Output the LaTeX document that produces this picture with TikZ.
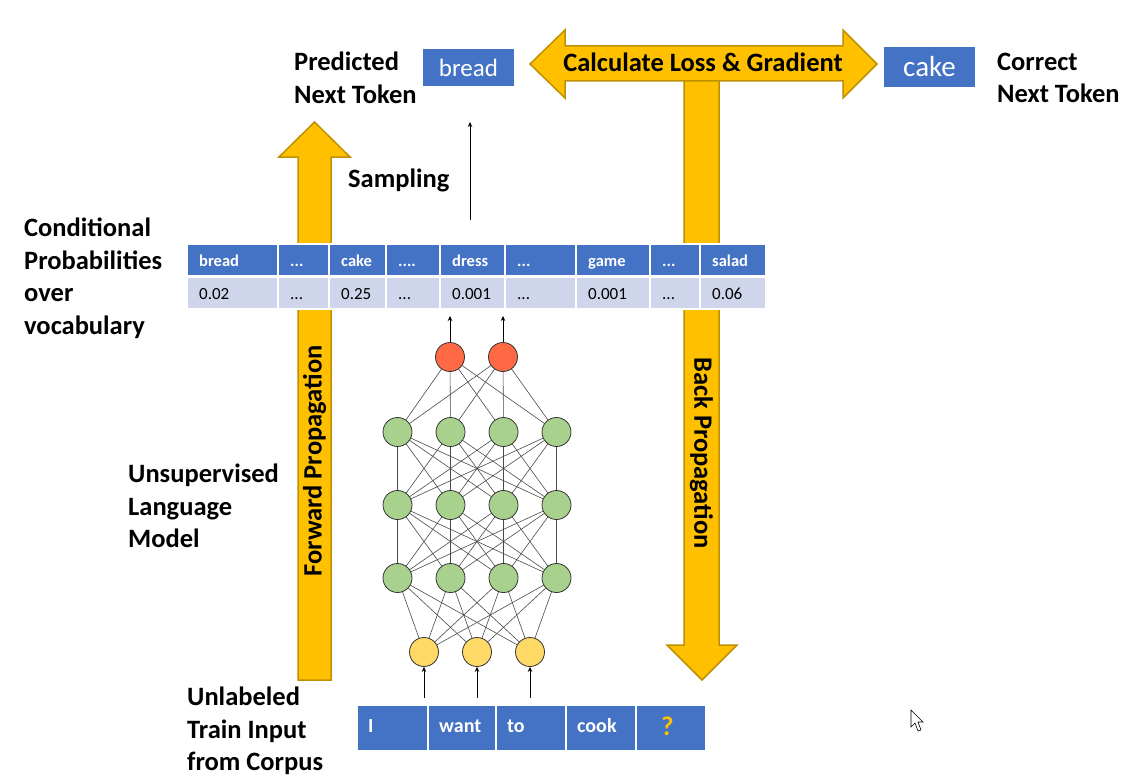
\documentclass[tikz,border=0pt]{standalone}
\usepackage{fontspec}
\setmainfont{Carlito}
\usetikzlibrary{arrows.meta}
\definecolor{blueC}{HTML}{4472C4}
\definecolor{valC}{HTML}{CFD5EA}
\definecolor{orY}{HTML}{FFC000}
\definecolor{orD}{HTML}{BF9000}
\definecolor{redN}{HTML}{FF6A45}
\definecolor{greenN}{HTML}{A9D18E}
\definecolor{yellowN}{HTML}{FFD966}
\definecolor{edgeC}{HTML}{4A4A4A}
\newcommand{\mythree}{...}
\newcommand{\myfour}{....}
\begin{document}
\begin{tikzpicture}[x=1pt,y=-1pt,
  big/.style={font=\bfseries\fontsize{26.5}{32.5}\selectfont, align=left, inner sep=0pt, anchor=west},
  orange/.style={fill=orY, draw=orD, line width=1.5pt, line join=miter},
  hdr/.style={fill=blueC, text=white, font=\bfseries\fontsize{16.5}{18}\selectfont, minimum height=30pt, text height=13pt, text depth=1pt, inner xsep=11pt, inner ysep=0pt, align=left, anchor=north west},
  val/.style={fill=valC, text=black, font=\fontsize{17}{19}\selectfont, minimum height=30pt, text height=13pt, text depth=1pt, inner xsep=11pt, inner ysep=0pt, align=left, anchor=north west},
  tok/.style={fill=blueC, text=white, font=\fontsize{25}{28}\selectfont, minimum height=37pt, inner sep=0pt},
  inbox/.style={fill=blueC, text=white, font=\bfseries\fontsize{20}{22}\selectfont, minimum height=44pt, text height=14pt, text depth=6pt, inner xsep=10pt, inner ysep=0pt, align=left, anchor=north west},
  neuron/.style={circle, draw=black!80, line width=0.8pt, minimum size=29pt, inner sep=0pt},
  edge/.style={draw=edgeC, line width=0.6pt},
  thin arrow/.style={draw=black, line width=0.9pt, -{Stealth[length=5pt,width=4.5pt]}}
]
\useasboundingbox (0,0) rectangle (1139,781);

% ---- orange arrows ----
\draw[orange] (684,70) -- (684,645) -- (667,645) -- (702,680) -- (737,645) -- (719,645) -- (719,70) -- cycle;
\draw[orange] (530,64) -- (565,30) -- (565,46) -- (843,46) -- (843,30) -- (877,64) -- (843,98) -- (843,81) -- (565,81) -- (565,98) -- cycle;
\node[big, anchor=center] (loss) at (703,62) {Calculate Loss \& Gradient};
\draw[orange] (298,680) -- (298,157) -- (279,157) -- (314.5,122) -- (350,157) -- (331,157) -- (331,680) -- cycle;
\node[big, anchor=center, rotate=90] (fwd) at (314.5,461) {Forward Propagation};
\node[big, anchor=center, rotate=-90] (back) at (701.5,453) {Back Propagation};

% ---- top tokens ----
\node[big] (pred) at (294,78) {Predicted\\Next Token};
\node[tok, minimum width=91pt] (bread) at (468.5,68) {bread};
\node[tok, minimum width=91pt, minimum height=40pt, font=\fontsize{29}{32}\selectfont] (cake) at (929.5,67) {cake};
\node[big] (corr) at (997,78) {Correct\\Next Token};

% ---- sampling ----
\node[big] (samp) at (348,180) {Sampling};
\coordinate (s0) at (470,220);
\coordinate (s1) at (470,122);
\draw[thin arrow] (s0) -- (s1);

% ---- left labels ----
\node[big] (cond) at (24,278.5) {Conditional\\Probabilities\\over\\vocabulary};
\node[big] (ulm) at (128,506) {Unsupervised\\Language\\Model};
\node[big] (uti) at (187,731) {Unlabeled\\Train Input\\from Corpus};

% ---- probability table ----
\fill[white] (186,243) rectangle (767,310);
\foreach \x/\w/\h/\v [count=\i, evaluate=\w as \tw using \w-22] in
  {188/89/bread/0.02, 279/49/\mythree/\mythree, 330/55/cake/0.25, 387/52/\myfour/\mythree, 441/63/dress/0.001,
   506/69/\mythree/\mythree, 577/72/game/0.001, 651/48/\mythree/\mythree, 701/64/salad/0.06}{
  \node[hdr, text width=\tw pt] (h\i) at (\x,245) {\h};
  \node[val, text width=\tw pt] (v\i) at (\x,278) {\v};
}

% ---- neural network ----
\foreach \x [count=\i] in {450,503} \coordinate (n0-\i) at (\x,357);
\foreach \y [count=\l] in {432,505,578}{
  \foreach \x [count=\i] in {397.5,450.5,503.5,556.5} \coordinate (n\l-\i) at (\x,\y);
}
\foreach \x [count=\i] in {424,477,530} \coordinate (n4-\i) at (\x,652);

\foreach \a in {1,2}{\foreach \b in {1,2,3,4}{\draw[edge] (n0-\a) -- (n1-\b);}}
\foreach \a in {1,2,3,4}{\foreach \b in {1,2,3,4}{
  \draw[edge] (n1-\a) -- (n2-\b);
  \draw[edge] (n2-\a) -- (n3-\b);}}
\foreach \a in {1,2,3,4}{\foreach \b in {1,2,3}{\draw[edge] (n3-\a) -- (n4-\b);}}

\foreach \i in {1,2}{\node[neuron, fill=redN] (r\i) at (n0-\i) {};}
\foreach \l in {1,2,3}{\foreach \i in {1,2,3,4}{\node[neuron, fill=greenN] (g\l\i) at (n\l-\i) {};}}
\foreach \i in {1,2,3}{\node[neuron, fill=yellowN] (y\i) at (n4-\i) {};}

\coordinate (ro1) at (450,316);
\coordinate (ro2) at (503,316);
\draw[thin arrow, line width=0.7pt] (r1) -- (ro1);
\draw[thin arrow, line width=0.7pt] (r2) -- (ro2);
\coordinate (yi1) at (424,698);
\coordinate (yi2) at (477,698);
\coordinate (yi3) at (530,698);
\foreach \i in {1,2,3}{\draw[thin arrow, line width=0.7pt] (yi\i) -- (y\i);}

% ---- input tokens ----
\node[inbox, text width=49pt] (i1) at (358,706) {I};
\node[inbox, text width=46pt] (i2) at (429,706) {want};
\node[inbox, text width=48pt] (i3) at (497,706) {to};
\node[inbox, text width=48pt] (i4) at (567,706) {cook};
\node[inbox, text width=68pt, align=left, text=orY, inner xsep=0pt, font=\bfseries\fontsize{27}{30}\selectfont, text height=18pt, text depth=4pt] (i5) at (637,706) {\hspace{24pt}?};

% ---- mouse cursor ----
\draw[fill=white, draw=black, line width=0.6pt, line join=miter] (911,710) -- (911,727) -- (915,723) -- (918,731) -- (921,730) -- (918,722) -- (923,722) -- cycle;
\end{tikzpicture}
\end{document}
